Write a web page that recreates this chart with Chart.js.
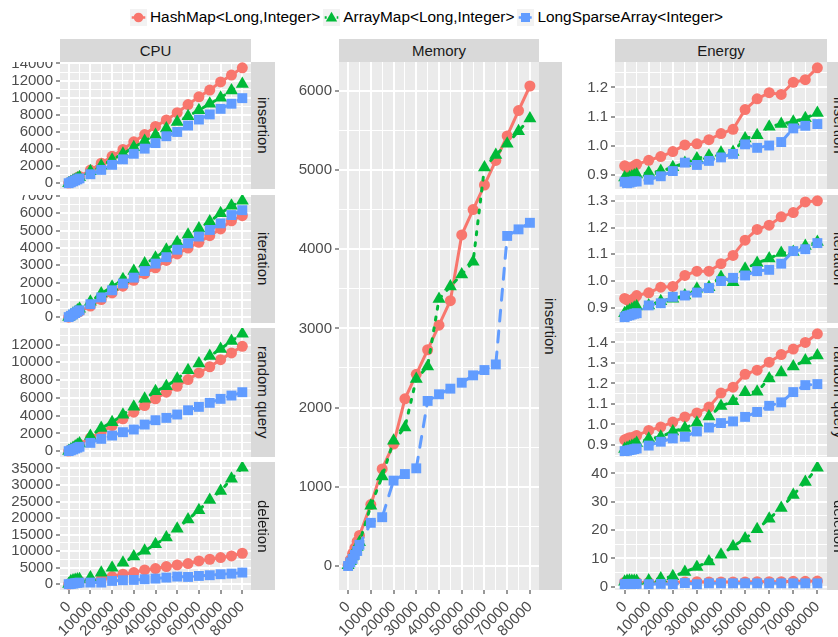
<!DOCTYPE html>
<html>
<head>
<meta charset="utf-8">
<script src="https://cdn.jsdelivr.net/npm/chart.js@4.4.0/dist/chart.umd.min.js"></script>
<style>
  html, body { margin: 0; padding: 0; background: #ffffff; }
  body { position: relative; width: 838px; height: 637px; overflow: hidden;
         font-family: "Liberation Sans", Arial, sans-serif; }
  .strip { position: absolute; background: #D9D9D9; color: #1A1A1A; font-size: 15px;
           display: flex; align-items: center; justify-content: center; white-space: nowrap;
           overflow: hidden; z-index: 2; }
  .strip.v span { writing-mode: vertical-rl; }
  #legend { position: absolute; left: 130px; top: 8px; height: 18px; display: flex;
            align-items: center; font-size: 15.4px; color: #000; white-space: nowrap; z-index: 2; }
  #legend .item { display: flex; align-items: center; margin-right: 3px; }
  #legend svg { display: block; margin-right: 3px; }
</style>
</head>
<body>
<div id="legend"></div>
<script>
// Collection sizes (number of entries) on the x axis
const sizes = [0, 1000, 2000, 3000, 4000, 5000, 10000, 15000, 20000, 25000, 30000,
               35000, 40000, 45000, 50000, 55000, 60000, 65000, 70000, 75000, 80000];
const seriesNames = ['HashMap<Long,Integer>', 'ArrayMap<Long,Integer>', 'LongSparseArray<Integer>'];
const seriesColors = ['#F8766D', '#00BA38', '#619CFF'];
const xTicks = [0, 10000, 20000, 30000, 40000, 50000, 60000, 70000, 80000];

// CPU
const cpuInsertionHashMap = [30, 180, 340, 500, 650, 800, 1550, 2350, 3150, 3950, 4850, 5700, 6650, 7400, 8250, 9200, 10100, 10900, 11850, 12650, 13500];
const cpuInsertionArrayMap = [20, 150, 290, 420, 560, 700, 1400, 2050, 2750, 3450, 4200, 4950, 5650, 6400, 7150, 7850, 8550, 9300, 10000, 10850, 11600];
const cpuInsertionSparse = [10, 110, 230, 340, 460, 570, 1060, 1570, 2160, 2800, 3450, 4050, 4700, 5500, 6000, 6750, 7450, 8050, 8700, 9300, 9950];
const cpuInsertionTicks = [0, 2000, 4000, 6000, 8000, 10000, 12000, 14000];

const cpuIterationHashMap = [10, 70, 140, 210, 280, 340, 650, 1030, 1410, 1800, 2140, 2520, 2860, 3280, 3660, 4000, 4330, 4710, 5100, 5570, 5860];
const cpuIterationArrayMap = [20, 110, 210, 300, 400, 500, 900, 1370, 1760, 2200, 2670, 3100, 3440, 3900, 4330, 4770, 5130, 5530, 6000, 6430, 6720];
const cpuIterationSparse = [15, 90, 170, 250, 330, 410, 760, 1150, 1560, 1950, 2290, 2670, 3100, 3470, 3900, 4270, 4660, 5040, 5420, 5900, 6180];
const cpuIterationTicks = [0, 1000, 2000, 3000, 4000, 5000, 6000, 7000];

const cpuQueryHashMap = [20, 170, 320, 480, 640, 780, 1500, 2140, 2890, 3640, 4390, 5140, 5900, 6640, 7300, 8060, 8800, 9500, 10300, 11060, 11800];
const cpuQueryArrayMap = [30, 190, 360, 530, 700, 860, 1700, 2600, 3260, 4100, 5000, 5900, 6750, 7300, 8140, 9100, 9860, 10700, 11500, 12400, 13200];
const cpuQuerySparse = [10, 100, 200, 300, 400, 500, 940, 1390, 1760, 2140, 2440, 3000, 3490, 3750, 4130, 4610, 4990, 5440, 5890, 6260, 6640];
const cpuQueryTicks = [0, 2000, 4000, 6000, 8000, 10000, 12000];

const cpuDeletionHashMap = [20, 200, 380, 560, 740, 900, 1000, 1500, 2310, 3020, 3520, 4330, 4730, 5330, 5830, 6240, 7040, 7550, 8050, 8550, 9360];
const cpuDeletionArrayMap = [50, 900, 1100, 1250, 1400, 1500, 2000, 3500, 5000, 6500, 8350, 10100, 12100, 14100, 16800, 19600, 22400, 25500, 28200, 31900, 35200];
const cpuDeletionSparse = [10, 100, 200, 300, 400, 480, 500, 500, 1000, 1200, 1300, 1500, 1700, 2000, 2300, 2200, 2500, 2720, 3020, 3200, 3520];
const cpuDeletionTicks = [0, 5000, 10000, 15000, 20000, 25000, 30000, 35000];

// Memory
const memoryHashMap = [10, 80, 160, 230, 310, 385, 775, 1225, 1540, 2110, 2420, 2730, 3040, 3350, 4180, 4500, 4810, 5120, 5430, 5750, 6060];
const memoryArrayMap = [10, 60, 120, 180, 240, 300, 760, 1130, 1580, 1750, 2360, 2520, 3370, 3530, 3680, 3840, 5030, 5190, 5330, 5490, 5650];
const memorySparse = [0, 45, 90, 140, 190, 268, 545, 616, 1078, 1161, 1233, 2084, 2168, 2239, 2314, 2407, 2474, 2545, 4167, 4250, 4333];
const memoryTicks = [0, 1000, 2000, 3000, 4000, 5000, 6000];

// Energy
const energyInsertionHashMap = [0.93, 0.925, 0.918, 0.925, 0.93, 0.935, 0.949, 0.962, 0.979, 1.002, 1.006, 1.02, 1.041, 1.056, 1.124, 1.161, 1.182, 1.176, 1.218, 1.227, 1.268];
const energyInsertionArrayMap = [0.89, 0.885, 0.89, 0.893, 0.897, 0.9, 0.906, 0.912, 0.925, 0.94, 0.955, 0.965, 0.975, 0.978, 1.024, 1.035, 1.065, 1.074, 1.082, 1.094, 1.112];
const energyInsertionSparse = [0.875, 0.87, 0.872, 0.875, 0.877, 0.876, 0.882, 0.894, 0.912, 0.941, 0.933, 0.947, 0.959, 0.971, 1.004, 0.992, 1.0, 1.012, 1.059, 1.068, 1.074];
const energyInsertionTicks = [0.9, 1.0, 1.1, 1.2];

const energyIterationHashMap = [0.935, 0.93, 0.925, 0.93, 0.935, 0.946, 0.956, 0.977, 0.98, 1.021, 1.037, 1.037, 1.065, 1.096, 1.153, 1.193, 1.209, 1.24, 1.256, 1.296, 1.3];
const energyIterationArrayMap = [0.88, 0.885, 0.89, 0.895, 0.9, 0.905, 0.909, 0.925, 0.934, 0.946, 0.971, 0.977, 1.015, 0.996, 1.046, 1.068, 1.084, 1.105, 1.109, 1.131, 1.146];
const energyIterationSparse = [0.865, 0.87, 0.872, 0.875, 0.878, 0.88, 0.909, 0.917, 0.941, 0.946, 0.957, 0.974, 1.0, 1.012, 1.021, 1.037, 1.042, 1.065, 1.112, 1.119, 1.142];
const energyIterationTicks = [0.9, 1.0, 1.1, 1.2, 1.3];

const energyQueryHashMap = [0.925, 0.93, 0.935, 0.935, 0.94, 0.946, 0.971, 0.988, 1.012, 1.037, 1.056, 1.085, 1.153, 1.182, 1.245, 1.265, 1.304, 1.341, 1.368, 1.4, 1.442];
const energyQueryArrayMap = [0.88, 0.885, 0.89, 0.895, 0.9, 0.91, 0.93, 0.94, 0.966, 0.983, 1.008, 1.039, 1.09, 1.113, 1.157, 1.16, 1.224, 1.253, 1.283, 1.312, 1.337];
const energyQuerySparse = [0.87, 0.872, 0.875, 0.877, 0.88, 0.883, 0.897, 0.916, 0.932, 0.94, 0.966, 0.985, 1.007, 1.015, 1.037, 1.061, 1.091, 1.108, 1.158, 1.192, 1.197];
const energyQueryTicks = [0.9, 1.0, 1.1, 1.2, 1.3, 1.4];

const energyDeletionHashMap = [1.6, 1.7, 1.6, 1.7, 1.7, 1.6, 1.5, 1.6, 1.6, 1.7, 1.8, 1.7, 1.7, 1.7, 1.7, 1.8, 1.8, 1.8, 1.9, 1.9, 2.0];
const energyDeletionArrayMap = [1.8, 2.0, 2.1, 2.0, 2.0, 2.0, 2.2, 2.9, 3.7, 5.2, 7.0, 8.9, 11.3, 14.2, 17.0, 20.3, 24.0, 27.8, 32.4, 37.0, 42.0];
const energyDeletionSparse = [0.9, 1.0, 1.0, 1.0, 1.0, 1.0, 0.9, 1.0, 0.9, 1.3, 0.9, 1.2, 1.2, 1.2, 1.2, 1.2, 1.2, 1.2, 1.2, 1.2, 1.2];
const energyDeletionTicks = [0, 10, 20, 30, 40];

const FONT = '"Liberation Sans", Arial, sans-serif';
const TICK_FONT = { family: FONT, size: 15 };
const pointStyles = ['circle', 'triangle', 'rect'];
const pointRadii = [5.5, 7.5, 7];
const lineDashes = [[], [3, 8], [11, 10]];

// Light grey panel background behind the grid
const panelBackground = {
  id: 'panelBackground',
  beforeDraw(chart) {
    const { ctx, chartArea: a } = chart;
    ctx.save();
    ctx.fillStyle = '#EBEBEB';
    ctx.fillRect(a.left, a.top, a.right - a.left, a.bottom - a.top);
    ctx.restore();
  }
};

// Major breaks plus the half-way minor breaks that fall inside [lo, hi]
function gridBreaks(major, lo, hi) {
  const step = major[1] - major[0];
  const minor = [];
  for (let i = -1; i < major.length; i++) minor.push(major[0] + (i + 0.5) * step);
  return minor.concat(major).filter(v => v >= lo && v <= hi).sort((a, b) => a - b);
}

function expand(values) {
  const lo = Math.min(...values), hi = Math.max(...values), pad = (hi - lo) * 0.05;
  return [lo - pad, hi + pad];
}

function axisOptions(major, lo, hi, showLabels, format, fitSize, isX) {
  const majorSet = new Set(major);
  const breaks = gridBreaks(major, lo, hi);
  return {
    type: 'linear',
    min: lo,
    max: hi,
    afterBuildTicks: s => { s.ticks = breaks.map(v => ({ value: v })); },
    afterFit: s => {
      if (isX) s.height = fitSize; else s.width = fitSize;
      s.paddingLeft = 0; s.paddingRight = 0; s.paddingTop = 0; s.paddingBottom = 0;
    },
    border: { display: false },
    grid: {
      color: '#FFFFFF',
      lineWidth: c => (c.tick && majorSet.has(c.tick.value)) ? 2 : 1,
      drawTicks: showLabels,
      tickLength: 4,
      tickWidth: 1,
      tickColor: c => (c.tick && majorSet.has(c.tick.value)) ? '#333333' : 'rgba(0,0,0,0)'
    },
    ticks: {
      display: showLabels,
      autoSkip: false,
      padding: isX ? 4 : 3,
      color: '#4D4D4D',
      font: TICK_FONT,
      maxRotation: isX ? 45 : 0,
      minRotation: isX ? 45 : 0,
      callback: v => majorSet.has(v) ? format(v) : ''
    }
  };
}

const PAD_RIGHT = 22;

function panel(spec) {
  const W = spec.axisW + spec.plotW + PAD_RIGHT;
  const xAxisH = spec.showX ? 47 : 0;
  const H = spec.plotH + xAxisH;
  const canvas = document.createElement('canvas');
  canvas.width = W; canvas.height = H;
  canvas.style.cssText = `position:absolute;left:${spec.left}px;top:${spec.top}px;width:${W}px;height:${H}px;z-index:1;`;
  document.body.appendChild(canvas);

  const [yLo, yHi] = expand(spec.series.flat());
  const [xLo, xHi] = expand(sizes);

  const datasets = spec.series.map((vals, i) => ({
    label: seriesNames[i],
    data: sizes.map((x, k) => ({ x, y: vals[k] })),
    borderColor: seriesColors[i],
    backgroundColor: seriesColors[i],
    pointBackgroundColor: seriesColors[i],
    borderWidth: 3,
    borderDash: lineDashes[i],
    borderCapStyle: 'round',
    borderJoinStyle: 'round',
    pointStyle: pointStyles[i],
    pointRadius: pointRadii[i],
    pointBorderWidth: 0,
    pointHoverRadius: pointRadii[i],
    tension: 0,
    clip: 0,
    order: 3 - i
  }));

  new Chart(canvas, {
    type: 'line',
    data: { datasets },
    plugins: [panelBackground],
    options: {
      responsive: false,
      animation: false,
      devicePixelRatio: 1,
      events: [],
      layout: { padding: { left: 0, top: 0, right: PAD_RIGHT, bottom: 0 }, autoPadding: false },
      plugins: { legend: { display: false }, tooltip: { enabled: false }, title: { display: false } },
      scales: {
        x: axisOptions(xTicks, xLo, xHi, spec.showX, v => String(v), xAxisH, true),
        y: axisOptions(spec.ticks, yLo, yHi, true, spec.format, spec.axisW, false)
      }
    }
  });
}

function strip(left, top, w, h, text, vertical) {
  const d = document.createElement('div');
  d.className = 'strip' + (vertical ? ' v' : '');
  d.style.left = left + 'px'; d.style.top = top + 'px';
  d.style.width = w + 'px'; d.style.height = h + 'px';
  const s = document.createElement('span');
  s.textContent = text;
  d.appendChild(s);
  document.body.appendChild(d);
}

const rows = [
  { top: 62, h: 127, name: 'insertion' },
  { top: 195, h: 128, name: 'iteration' },
  { top: 328, h: 129, name: 'random query' },
  { top: 462, h: 128, name: 'deletion' }
];
const intFmt = v => String(v);
const decFmt = v => v.toFixed(1);

const cpuSeries = [
  [cpuInsertionHashMap, cpuInsertionArrayMap, cpuInsertionSparse],
  [cpuIterationHashMap, cpuIterationArrayMap, cpuIterationSparse],
  [cpuQueryHashMap, cpuQueryArrayMap, cpuQuerySparse],
  [cpuDeletionHashMap, cpuDeletionArrayMap, cpuDeletionSparse]
];
const cpuTicks = [cpuInsertionTicks, cpuIterationTicks, cpuQueryTicks, cpuDeletionTicks];
const energySeries = [
  [energyInsertionHashMap, energyInsertionArrayMap, energyInsertionSparse],
  [energyIterationHashMap, energyIterationArrayMap, energyIterationSparse],
  [energyQueryHashMap, energyQueryArrayMap, energyQuerySparse],
  [energyDeletionHashMap, energyDeletionArrayMap, energyDeletionSparse]
];
const energyTicks = [energyInsertionTicks, energyIterationTicks, energyQueryTicks, energyDeletionTicks];

rows.forEach((r, i) => {
  const last = i === rows.length - 1;
  panel({ left: 0, top: r.top, axisW: 60, plotW: 191, plotH: r.h, showX: last,
          series: cpuSeries[i], ticks: cpuTicks[i], format: intFmt });
  panel({ left: 562, top: r.top, axisW: 53, plotW: 212, plotH: r.h, showX: last,
          series: energySeries[i], ticks: energyTicks[i], format: last ? intFmt : decFmt });
  strip(251, r.top, 24, r.h, r.name, true);
  strip(827, r.top, 24, r.h, r.name, true);
});

panel({ left: 280, top: 62, axisW: 59, plotW: 200, plotH: 528, showX: true,
        series: [memoryHashMap, memoryArrayMap, memorySparse], ticks: memoryTicks, format: intFmt });
strip(539, 62, 23, 528, 'insertion', true);

strip(60, 39, 191, 23, 'CPU', false);
strip(339, 39, 200, 23, 'Memory', false);
strip(615, 39, 212, 23, 'Energy', false);

// Legend keys: line segment plus marker on a light key background
const legend = document.getElementById('legend');
const keyDash = ['', '2 4', '5 3'];
seriesNames.forEach((name, i) => {
  const c = seriesColors[i];
  let marker;
  if (i === 0) marker = `<circle cx="8.5" cy="8.5" r="4.8" fill="${c}"/>`;
  else if (i === 1) marker = `<polygon points="8.5,2.8 14.2,12.6 2.8,12.6" fill="${c}"/>`;
  else marker = `<rect x="4" y="4" width="9" height="9" fill="${c}"/>`;
  const item = document.createElement('div');
  item.className = 'item';
  item.innerHTML =
    `<svg width="17" height="17" viewBox="0 0 17 17"><rect width="17" height="17" fill="#F2F2F2"/>` +
    `<line x1="1.7" y1="8.5" x2="15.3" y2="8.5" stroke="${c}" stroke-width="2.5" stroke-dasharray="${keyDash[i]}"/>` +
    marker + `</svg>`;
  const label = document.createElement('span');
  label.textContent = name;
  item.appendChild(label);
  legend.appendChild(item);
});
</script>
</body>
</html>
